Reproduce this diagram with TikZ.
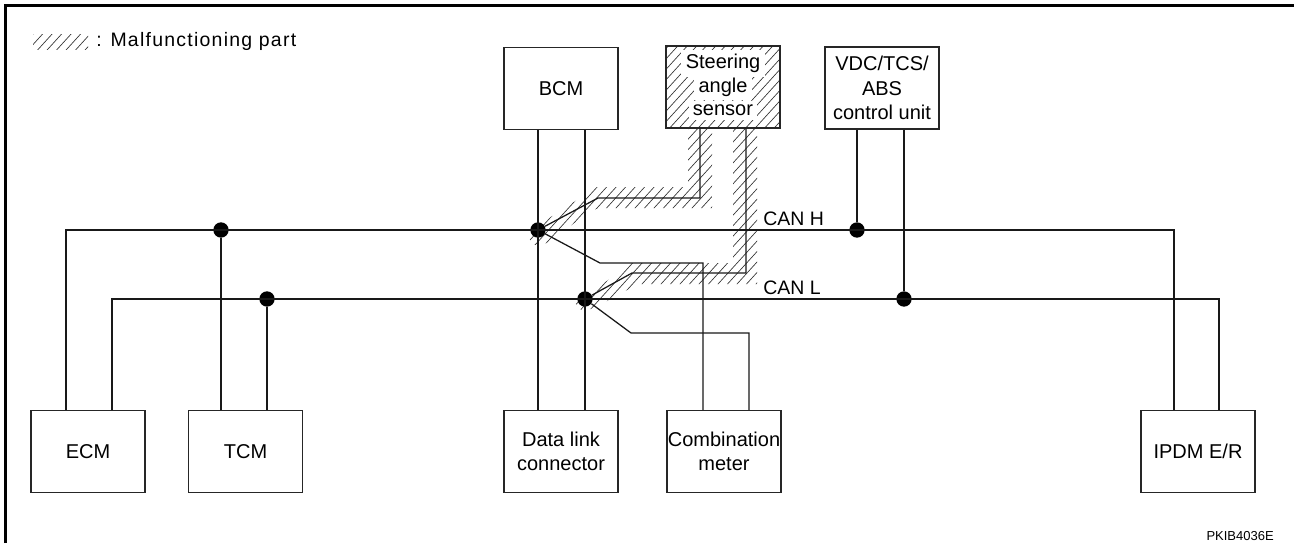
\documentclass[tikz,border=0pt]{standalone}
\usepackage{fontspec}
\setmainfont{Liberation Sans}
\newcommand{\hatchfill}{\foreach \k in {-500,-490.5,...,1500} {\draw[hatchline] (\k,600) -- ++(545,-600);}}
\newcommand{\wb}[1]{{\setlength{\fboxsep}{3.2pt}\rule[-3.2pt]{0pt}{14pt}\smash{\colorbox{white}{#1}}}}
\tikzset{
  x=0.75pt,y=-0.75pt,
  hatchline/.style={line width=0.5pt,black!80},
  unit/.style={draw=black!85,line width=1.1pt,minimum width=85.5pt,minimum height=61.5pt,inner sep=0pt,align=center,
     font=\fontsize{15}{18.2}\selectfont},
  wire/.style={line width=0.95pt,black!90,line join=miter},
  joint/.style={circle,fill=black,inner sep=0pt,minimum size=11.5pt},
  caption/.style={inner sep=0pt,font=\fontsize{14.6}{18}\selectfont},
}
\begin{document}
\begin{tikzpicture}
\useasboundingbox (0,0) rectangle (1294,543);
% hatching
\begin{scope}
 \clip (33,34) rectangle (88,49);
 \hatchfill
\end{scope}
\begin{scope}
 \clip (666,46) rectangle (780,128);
 \hatchfill
\end{scope}
\begin{scope}
 \clip (688,128) -- (688,187) -- (597,187) -- (543,222) -- (526,235) -- (534,245) -- (548,243) -- (590,211) -- (600,208) -- (712,208) -- (712,128) -- cycle;
 \hatchfill
\end{scope}
\begin{scope}
 \clip (733,128) -- (733,263) -- (632,263) -- (590,293) -- (574,302) -- (583,312) -- (598,306) -- (625,291) -- (640,284) -- (757,284) -- (757,128) -- cycle;
 \hatchfill
\end{scope}
% frame
\coordinate (frameA) at (5.6,543);
\coordinate (frameB) at (5.6,5.6);
\coordinate (frameC) at (1294,5.6);
\draw[line width=2.5pt,line cap=butt,miter limit=10] (frameA) -- (frameB) -- (frameC);
% units
\node[unit] (bcm) at (561,88.5) {BCM};
\node[unit] (sas) at (723,87) {\wb{Steering}\\[-0.6pt]\wb{angle}\\[-0.6pt]\wb{sensor}};
\node[unit] (vdc) at (882,88) {VDC/TCS/\\ABS\\control unit};
\node[unit] (ecm) at (88,451.5) {ECM};
\node[unit] (tcm) at (245.5,451.5) {TCM};
\node[unit] (dlc) at (561,451.5) {Data link\\connector};
\node[unit] (cmb) at (724,451.5) {Combination\\meter};
\node[unit] (ipdm) at (1198,451.5) {IPDM E/R};
% junctions
\node[joint] (j1) at (221,230) {};
\node[joint] (j2) at (538,230) {};
\node[joint] (j3) at (857,230) {};
\node[joint] (j4) at (267,299) {};
\node[joint] (j5) at (585,299) {};
\node[joint] (j6) at (904,299) {};
\coordinate (hl) at (66,230);
\coordinate (hr) at (1174,230);
\coordinate (ll) at (112,299);
\coordinate (lr) at (1219,299);
\coordinate (sa) at (700,198);
\coordinate (sb) at (598,198);
\coordinate (sc) at (746,273);
\coordinate (sd) at (632,273);
\coordinate (ca) at (600,263);
\coordinate (cb) at (703,263);
\coordinate (cc) at (631,333);
\coordinate (cd) at (749,333);
% bus
\draw[wire] (ecm.north -| hl) -- (hl) -- (hr) -- (ipdm.north -| hr);
\draw[wire] (ecm.north -| ll) -- (ll) -- (lr) -- (ipdm.north -| lr);
\draw[wire] (j1) -- (tcm.north -| j1);
\draw[wire] (j4) -- (tcm.north -| j4);
\draw[wire] (bcm.south -| j2) -- (dlc.north -| j2);
\draw[wire] (bcm.south -| j5) -- (dlc.north -| j5);
\draw[wire] (vdc.south -| j3) -- (j3);
\draw[wire] (vdc.south -| j6) -- (j6);
\draw[wire] (sas.south -| sa) -- (sa) -- (sb) -- (j2);
\draw[wire] (sas.south -| sc) -- (sc) -- (sd) -- (j5);
\draw[wire] (j2) -- (ca) -- (cb) -- (cmb.north -| cb);
\draw[wire] (j5) -- (cc) -- (cd) -- (cmb.north -| cd);
% labels
\node[caption,anchor=west] (canh) at (763,219) {CAN H};
\node[caption,anchor=west] (canl) at (763,288) {CAN L};
\node[caption,anchor=west] (legend) at (96,41) {\addfontfeature{LetterSpace=6.4}: Malfunctioning part};
\node[inner sep=0pt,anchor=east,font=\fontsize{9.75}{12}\selectfont] (code) at (1274,536) {PKIB4036E};
\end{tikzpicture}
\end{document}
